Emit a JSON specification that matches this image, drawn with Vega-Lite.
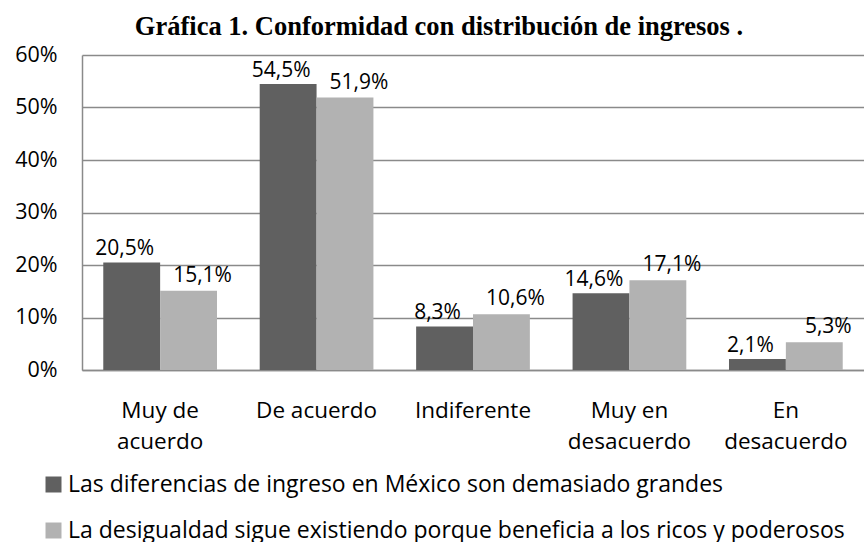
{
  "$schema": "https://vega.github.io/schema/vega-lite/v6.json",
  "autosize": "none",
  "width": 782,
  "height": 315,
  "padding": {"left": 82, "top": 55, "right": 0, "bottom": 172},
  "background": "white",
  "title": {
    "text": "Gráfica 1. Conformidad con distribución de ingresos .",
    "font": "Liberation Serif",
    "fontSize": 26.5,
    "fontWeight": "bold",
    "color": "black",
    "anchor": "middle",
    "frame": "group",
    "dx": -34,
    "offset": 4
  },
  "config": {
    "locale": {"number": {"decimal": ",", "thousands": ".", "grouping": [3], "currency": ["", " €"]}},
    "view": {"stroke": null},
    "font": "Open Sans"
  },
  "data": {
    "values": [
      {"cat": "Muy de acuerdo", "serie": "Las diferencias de ingreso en México son demasiado grandes", "value": 0.205},
      {"cat": "Muy de acuerdo", "serie": "La desigualdad sigue existiendo porque beneficia a los ricos y poderosos", "value": 0.151},
      {"cat": "De acuerdo", "serie": "Las diferencias de ingreso en México son demasiado grandes", "value": 0.545},
      {"cat": "De acuerdo", "serie": "La desigualdad sigue existiendo porque beneficia a los ricos y poderosos", "value": 0.519},
      {"cat": "Indiferente", "serie": "Las diferencias de ingreso en México son demasiado grandes", "value": 0.083},
      {"cat": "Indiferente", "serie": "La desigualdad sigue existiendo porque beneficia a los ricos y poderosos", "value": 0.106},
      {"cat": "Muy en desacuerdo", "serie": "Las diferencias de ingreso en México son demasiado grandes", "value": 0.146},
      {"cat": "Muy en desacuerdo", "serie": "La desigualdad sigue existiendo porque beneficia a los ricos y poderosos", "value": 0.171},
      {"cat": "En desacuerdo", "serie": "Las diferencias de ingreso en México son demasiado grandes", "value": 0.021},
      {"cat": "En desacuerdo", "serie": "La desigualdad sigue existiendo porque beneficia a los ricos y poderosos", "value": 0.053}
    ]
  },
  "encoding": {
    "x": {
      "field": "cat",
      "type": "nominal",
      "sort": ["Muy de acuerdo", "De acuerdo", "Indiferente", "Muy en desacuerdo", "En desacuerdo"],
      "scale": {"paddingInner": 0.273, "paddingOuter": 0.136},
      "axis": {
        "title": null,
        "labelAngle": 0,
        "labelFont": "Open Sans",
        "labelFontSize": 22.5,
        "labelColor": "black",
        "labelPadding": 29,
        "labelLineHeight": 31,
        "labelBaseline": "top",
        "ticks": false,
        "domainColor": "#8a8a8a",
        "domainWidth": 1.5,
        "labelExpr": "datum.label == 'Muy de acuerdo' ? ['Muy de', 'acuerdo'] : datum.label == 'Muy en desacuerdo' ? ['Muy en', 'desacuerdo'] : datum.label == 'En desacuerdo' ? ['En', 'desacuerdo'] : datum.label"
      }
    },
    "xOffset": {
      "field": "serie",
      "type": "nominal",
      "sort": ["Las diferencias de ingreso en México son demasiado grandes", "La desigualdad sigue existiendo porque beneficia a los ricos y poderosos"],
      "scale": {"paddingInner": 0, "paddingOuter": 0}
    },
    "y": {
      "field": "value",
      "type": "quantitative",
      "scale": {"domain": [0, 0.6], "nice": false},
      "axis": {
        "title": null,
        "format": ".0%",
        "values": [0, 0.1, 0.2, 0.3, 0.4, 0.5, 0.6],
        "labelFont": "Open Sans",
        "labelFontSize": 21.5,
        "labelColor": "black",
        "labelPadding": 25,
        "ticks": false,
        "domainColor": "#8a8a8a",
        "domainWidth": 1.5,
        "gridColor": "#8a8a8a",
        "gridWidth": 1.5
      }
    }
  },
  "layer": [
    {
      "mark": {"type": "bar"},
      "encoding": {
        "color": {
          "field": "serie",
          "type": "nominal",
          "scale": {
            "domain": ["Las diferencias de ingreso en México son demasiado grandes", "La desigualdad sigue existiendo porque beneficia a los ricos y poderosos"],
            "range": ["#606060", "#b2b2b2"]
          },
          "legend": {
            "title": null,
            "orient": "none",
            "legendX": -40,
            "legendY": 418,
            "direction": "vertical",
            "symbolType": "square",
            "symbolSize": 256,
            "symbolStrokeWidth": 0,
            "labelFont": "Open Sans",
            "labelFontSize": 23,
            "labelColor": "black",
            "labelOffset": 3,
            "labelLimit": 900,
            "rowPadding": 22
          }
        }
      }
    },
    {
      "transform": [{"filter": "datum.serie == 'Las diferencias de ingreso en México son demasiado grandes'"}],
      "mark": {"type": "text", "baseline": "alphabetic", "dy": -7, "dx": -7, "fontSize": 21, "font": "Open Sans", "color": "black"},
      "encoding": {"text": {"field": "value", "type": "quantitative", "format": ".1%"}}
    },
    {
      "transform": [{"filter": "datum.serie != 'Las diferencias de ingreso en México son demasiado grandes'"}],
      "mark": {"type": "text", "baseline": "alphabetic", "dy": -9, "dx": 14, "fontSize": 21, "font": "Open Sans", "color": "black"},
      "encoding": {"text": {"field": "value", "type": "quantitative", "format": ".1%"}}
    }
  ]
}
